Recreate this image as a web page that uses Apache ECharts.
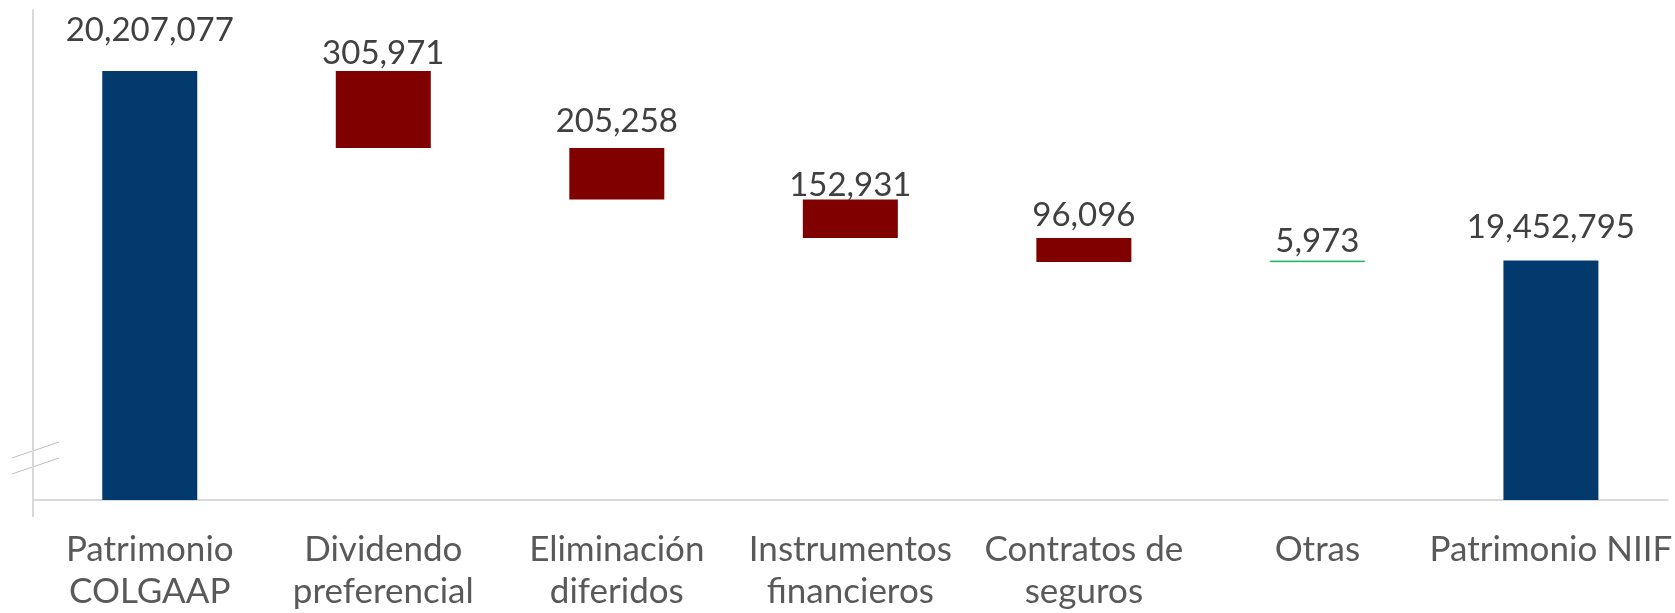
<!DOCTYPE html>
<html>
<head>
<meta charset="utf-8">
<script src="https://cdn.jsdelivr.net/npm/echarts@6/dist/echarts.min.js"></script>
<style>
  html, body { margin: 0; padding: 0; background: #fff; }
  #main { width: 1675px; height: 613px; }
</style>
</head>
<body>
<div id="main"></div>
<script>
// datos del puente patrimonio COLGAAP -> NIIF
const categories = [
    'Patrimonio\nCOLGAAP',
    'Dividendo\npreferencial',
    'Eliminación\ndiferidos',
    'Instrumentos\nfinancieros',
    'Contratos de\nseguros',
    'Otras',
    'Patrimonio NIIF'
];
const amounts = [20207077, -305971, -205258, -152931, -96096, 5973, 19452795];
const isTotal = [true, false, false, false, false, false, true];

// separacion de cada etiqueta sobre su barra (px)
const labelDist = [24, 1, 10, -2, 6, 3, 17];

const colTotal = '#033a6e';
const colDown = '#800000';
const colUp = '#00b050';

// base invisible + parte visible
let running = 0;
const baseData = [];
const barData = [];
amounts.forEach((v, i) => {
    if (isTotal[i]) {
        baseData.push(0);
        barData.push(v);
        running = v;
    } else if (v < 0) {
        running += v;
        baseData.push(running);
        barData.push(-v);
    } else {
        baseData.push(running);
        barData.push(v);
        running += v;
    }
});

const dom = document.getElementById('main');
const myChart = echarts.init(dom, null, { renderer: 'canvas' });

const option = {
    animation: false,
    grid: { left: 33, right: 3, top: 10, bottom: 112 },
    xAxis: {
        type: 'category',
        data: categories,
        axisTick: { show: false },
        axisLine: { lineStyle: { color: '#d9d9d9', width: 2 } },
        axisLabel: {
            color: '#595959',
            fontFamily: 'Lato',
            fontSize: 35,
            lineHeight: 42,
            margin: 29,
            interval: 0
        }
    },
    yAxis: {
        type: 'value',
        min: 18500000,
        max: 20450000,
        splitLine: { show: false },
        axisLabel: { show: false },
        axisTick: { show: false },
        axisLine: { show: true, lineStyle: { color: '#d9d9d9', width: 2 } }
    },
    series: [
        {
            name: 'base',
            type: 'bar',
            stack: 'w',
            barWidth: 95,
            itemStyle: { color: 'transparent' },
            emphasis: { disabled: true },
            data: baseData
        },
        {
            name: 'valor',
            type: 'bar',
            stack: 'w',
            barWidth: 95,
            clip: true,
            data: barData.map((v, i) => {
                const c = isTotal[i] ? colTotal : (amounts[i] < 0 ? colDown : colUp);
                return {
                    value: v,
                    itemStyle: {
                        color: c,
                        borderColor: c,
                        borderWidth: amounts[i] > 0 && !isTotal[i] ? 0.6 : 0
                    },
                    label: { distance: labelDist[i] }
                };
            }),
            label: {
                show: true,
                position: 'top',
                color: '#404040',
                fontFamily: 'Lato',
                fontSize: 33,
                formatter: p => Math.abs(amounts[p.dataIndex]).toLocaleString('en-US')
            }
        }
    ],
    graphic: [
        // prolongacion del eje vertical bajo el eje x
        { type: 'line', shape: { x1: 33, y1: 500, x2: 33, y2: 517 }, style: { stroke: '#d9d9d9', lineWidth: 2 } },
        // marca de eje cortado
        { type: 'line', shape: { x1: 12, y1: 458, x2: 59, y2: 442 }, style: { stroke: '#bfbfbf', lineWidth: 1 } },
        { type: 'line', shape: { x1: 12, y1: 474, x2: 59, y2: 458 }, style: { stroke: '#bfbfbf', lineWidth: 1 } }
    ]
};

myChart.setOption(option);
window.addEventListener('resize', myChart.resize);
</script>
</body>
</html>
